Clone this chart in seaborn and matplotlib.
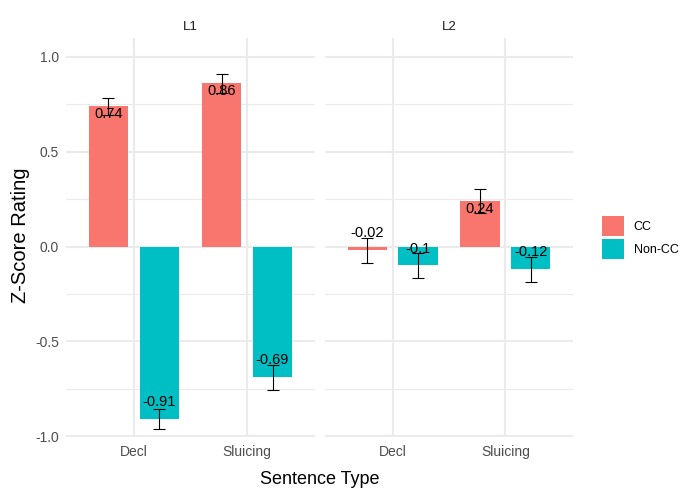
import matplotlib
matplotlib.use("Agg")
import matplotlib.pyplot as plt
import seaborn as sns
import pandas as pd
from matplotlib.patches import Patch
from matplotlib.ticker import FixedLocator

# ---- data ----
groups = ["L1", "L2"]
sentence_types = ["Decl", "Sluicing"]
conditions = ["CC", "Non-CC"]

# mean z-score ratings (Decl, Sluicing)
l1_cc = [0.74, 0.86]
l1_noncc = [-0.91, -0.69]
l2_cc = [-0.02, 0.24]
l2_noncc = [-0.10, -0.12]

# standard errors (Decl, Sluicing)
l1_cc_se = [0.045, 0.052]
l1_noncc_se = [0.053, 0.066]
l2_cc_se = [0.066, 0.064]
l2_noncc_se = [0.068, 0.066]

palette = {"CC": "#F8766D", "Non-CC": "#00BFC4"}

rows = []
for grp, cond, means, ses in [
    ("L1", "CC", l1_cc, l1_cc_se),
    ("L1", "Non-CC", l1_noncc, l1_noncc_se),
    ("L2", "CC", l2_cc, l2_cc_se),
    ("L2", "Non-CC", l2_noncc, l2_noncc_se),
]:
    for st, m, s in zip(sentence_types, means, ses):
        rows.append({"Group": grp, "Type": st, "Condition": cond, "Mean": m, "SE": s})
df = pd.DataFrame(rows)

# ---- style ----
plt.rcParams["font.family"] = ["Liberation Sans", "DejaVu Sans"]
plt.rcParams["axes.unicode_minus"] = False

W, H = 684, 488
fig = plt.figure(figsize=(W / 100, H / 100), dpi=100)

panel_top, panel_bottom = 38, 437
panels = {"L1": (66, 315), "L2": (325, 573)}

for grp in groups:
    left, right = panels[grp]
    ax = fig.add_axes([left / W, 1 - panel_bottom / H, (right - left) / W,
                       (panel_bottom - panel_top) / H])
    sub = df[df["Group"] == grp]
    sns.barplot(data=sub, x="Type", y="Mean", hue="Condition",
                order=sentence_types, hue_order=conditions, palette=palette,
                width=0.9, gap=0.222, errorbar=None, saturation=1,
                legend=False, ax=ax, zorder=2)

    # error bars and value labels on each bar
    for bar in ax.patches:
        cx = bar.get_x() + bar.get_width() / 2
        cat = int(round(cx))
        cond = conditions[0 if cx < cat else 1]
        row = sub[(sub["Type"] == sentence_types[cat]) & (sub["Condition"] == cond)].iloc[0]
        m, s = row["Mean"], row["SE"]
        ax.errorbar(cx, m, yerr=s, fmt="none", ecolor="black", elinewidth=0.8,
                    capsize=4, capthick=0.8, zorder=3)
        off = -5.4 if m > 0 else 12.2
        ax.annotate(f"{m:g}", (cx, m), xytext=(0, off), textcoords="offset points",
                    ha="center", va="center", fontsize=10.5, color="black", zorder=4)

    ax.set_xlim(-0.6, 1.6)
    ax.set_ylim(-1.005, 1.1)
    ax.yaxis.set_major_locator(FixedLocator([-1.0, -0.5, 0.0, 0.5, 1.0]))
    ax.yaxis.set_minor_locator(FixedLocator([-0.75, -0.25, 0.25, 0.75]))
    ax.set_yticklabels(["-1.0", "-0.5", "0.0", "0.5", "1.0"])
    ax.set_axisbelow(True)
    ax.grid(which="major", axis="both", color="#EBEBEB", lw=1.5, zorder=0)
    ax.grid(which="minor", axis="y", color="#EBEBEB", lw=0.8, zorder=0)
    for sp in ax.spines.values():
        sp.set_visible(False)
    ax.tick_params(which="both", length=0, labelsize=10, colors="#4D4D4D")
    ax.tick_params(axis="y", pad=5)
    ax.tick_params(axis="x", pad=6)
    if grp == "L2":
        ax.tick_params(axis="y", labelleft=False)
    ax.set_xlabel("")
    ax.set_ylabel("")
    ax.set_title(grp, fontsize=9.5, color="#1A1A1A", pad=6)

fig.text(319.5 / W, 4.5 / H, "Sentence Type", ha="center", va="baseline",
         fontsize=13, color="black")
fig.text(20.5 / W, 1 - 235 / H, "Z-Score Rating", ha="center", va="center",
         rotation=90, fontsize=14.5, color="black")

handles = [Patch(facecolor=palette[c], edgecolor="none") for c in conditions]
fig.legend(handles, conditions, loc="center left",
           bbox_to_anchor=(602 / W, 1 - 237.5 / H), frameon=False,
           fontsize=9, handlelength=1.75, handleheight=2.08,
           handletextpad=0.8, labelspacing=0.24, borderpad=0, borderaxespad=0)

fig.savefig("out.png", dpi=100)
